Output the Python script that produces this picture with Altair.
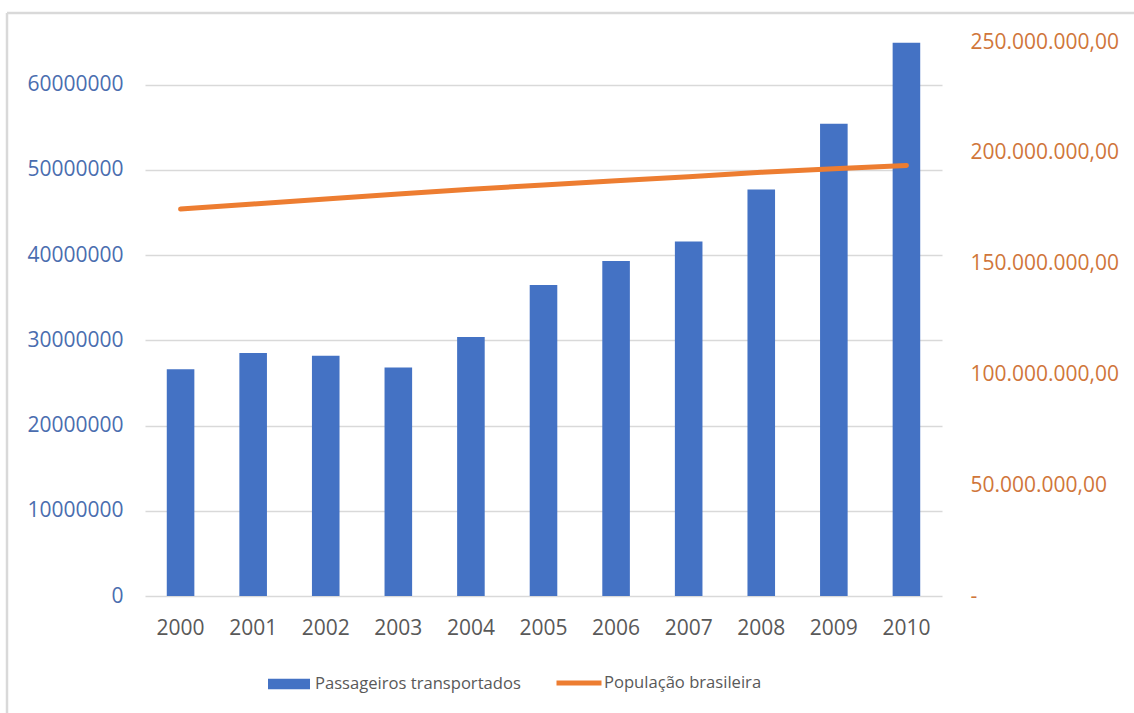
import altair as alt
import pandas as pd

# Anos da série
anos = ["2000", "2001", "2002", "2003", "2004", "2005",
        "2006", "2007", "2008", "2009", "2010"]

# Passageiros transportados (eixo esquerdo)
passageiros = [26600000, 28500000, 28200000, 26800000, 30400000, 36500000,
               39300000, 41600000, 47700000, 55400000, 64900000]

# População brasileira (eixo direito)
populacao = [174600000, 176900000, 179200000, 181400000, 183500000, 185500000,
             187400000, 189200000, 191200000, 192800000, 194300000]

ticks_esq = [0, 10000000, 20000000, 30000000, 40000000, 50000000, 60000000]
ticks_dir = [0, 50000000, 100000000, 150000000, 200000000, 250000000]

df = pd.DataFrame({
    "Ano": anos,
    "Passageiros": passageiros,
    "Populacao": populacao,
    "serie_barra": "Passageiros transportados",
    "serie_linha": "População brasileira",
})

FONTE = "Open Sans"
AZUL = "#4472C4"
LARANJA = "#ED7D31"
CINZA_TXT = "#595959"
GRADE = "#D9D9D9"

eixo_x = alt.X(
    "Ano:N",
    scale=alt.Scale(paddingInner=0.62, paddingOuter=0.3),
    axis=alt.Axis(title=None, labelAngle=0, labelColor=CINZA_TXT,
                  labelFontSize=21, labelFont=FONTE, labelPadding=21,
                  domain=False, ticks=False, grid=False),
)

barras = alt.Chart(df).mark_bar().encode(
    x=eixo_x,
    y=alt.Y(
        "Passageiros:Q",
        scale=alt.Scale(domain=[0, 65000000], nice=False),
        axis=alt.Axis(title=None, orient="left", values=ticks_esq, format="d",
                      labelColor="#4A6DAF", labelFontSize=21, labelFont=FONTE,
                      labelPadding=22, domain=False, ticks=False,
                      gridColor=GRADE, gridWidth=1.5),
    ),
    fill=alt.Fill(
        "serie_barra:N",
        scale=alt.Scale(range=[AZUL]),
        legend=alt.Legend(title=None, orient="none", legendX=123, legendY=621,
                          symbolType="M-1,-0.25H1V0.25H-1Z", symbolSize=1764,
                          symbolStrokeWidth=0, labelFont=FONTE,
                          labelFontSize=16.6, labelColor=CINZA_TXT,
                          labelOffset=5, labelLimit=400, padding=0),
    ),
)

linha = alt.Chart(df).mark_line(strokeWidth=5, strokeCap="round").encode(
    x=alt.X("Ano:N", bandPosition=0.5),
    y=alt.Y(
        "Populacao:Q",
        scale=alt.Scale(domain=[0, 250000000], nice=False),
        axis=alt.Axis(title=None, orient="right", values=ticks_dir,
                      labelExpr="datum.value == 0 ? '-' : format(datum.value / 1000000, 'd') + '.000.000,00'",
                      labelColor="#D0763A", labelFontSize=21, labelFont=FONTE,
                      labelPadding=28, labelAlign="left",
                      domain=False, ticks=False, grid=False),
    ),
    stroke=alt.Stroke(
        "serie_linha:N",
        scale=alt.Scale(range=[LARANJA]),
        legend=alt.Legend(title=None, orient="none", legendX=409, legendY=616,
                          symbolType="stroke", symbolSize=2025,
                          symbolStrokeWidth=5, labelFont=FONTE,
                          labelFontSize=16.6, labelColor=CINZA_TXT,
                          labelOffset=0, labelLimit=400, padding=0),
    ),
)

# Moldura da área do gráfico (lado esquerdo e topo)
moldura_df = pd.DataFrame({"k": [0]})
moldura_esq = alt.Chart(moldura_df).mark_rule(color=GRADE, strokeWidth=2.5).encode(
    x=alt.value(-138), y=alt.value(-29), y2=alt.value(680)
)
moldura_topo = alt.Chart(moldura_df).mark_rule(color=GRADE, strokeWidth=2.5).encode(
    x=alt.value(-138), x2=alt.value(1000), y=alt.value(-29)
)

chart = (
    alt.layer(barras, linha, moldura_esq, moldura_topo)
    .resolve_scale(y="independent")
    .properties(
        width=797,
        height=554,
        autosize=alt.AutoSizeParams(type="none"),
        padding={"left": 145, "top": 42, "right": 192, "bottom": 117},
        background="white",
    )
    .configure_view(stroke=None)
)

chart.save("out.html", embed_options={"renderer": "svg", "actions": False})
